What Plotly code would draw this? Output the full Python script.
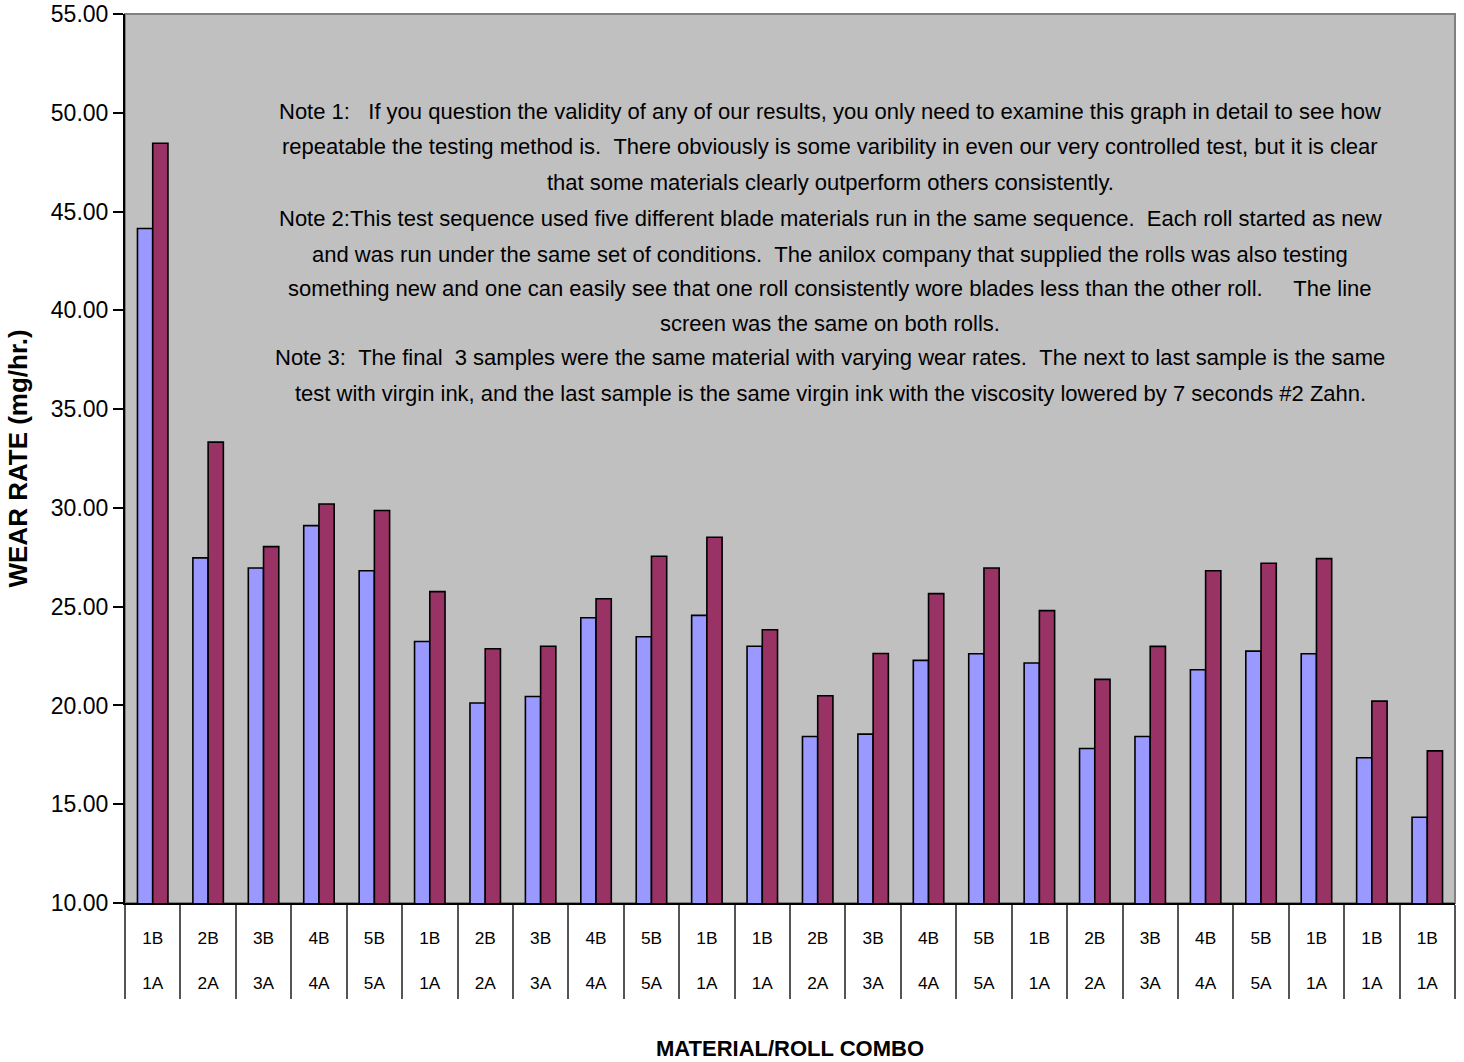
import plotly.graph_objects as go

categories_top = ["1B", "2B", "3B", "4B", "5B", "1B", "2B", "3B", "4B", "5B", "1B", "1B",
                  "2B", "3B", "4B", "5B", "1B", "2B", "3B", "4B", "5B", "1B", "1B", "1B"]
categories_bottom = ["1A", "2A", "3A", "4A", "5A", "1A", "2A", "3A", "4A", "5A", "1A", "1A",
                     "2A", "3A", "4A", "5A", "1A", "2A", "3A", "4A", "5A", "1A", "1A", "1A"]
series_b = [44.14, 27.47, 26.96, 29.10, 26.82, 23.24, 20.12, 20.45, 24.44, 23.48, 24.56, 23.00,
            18.43, 18.55, 22.28, 22.62, 22.15, 17.82, 18.43, 21.81, 22.75, 22.62, 17.35, 14.34]
series_a = [48.46, 33.33, 28.04, 30.20, 29.87, 25.76, 22.87, 23.00, 25.40, 27.55, 28.51, 23.83,
            20.49, 22.63, 25.66, 26.96, 24.80, 21.32, 22.99, 26.82, 27.20, 27.43, 20.22, 17.70]
y_ticks = [10, 15, 20, 25, 30, 35, 40, 45, 50, 55]

note_lines = [
    "Note 1:\u00a0\u00a0\u00a0If you question the validity of any of our results, you only need to examine this graph in detail to see how",
    "repeatable the testing method is.\u00a0\u00a0There obviously is some varibility in even our very controlled test, but it is clear",
    "that some materials clearly outperform others consistently.",
    "Note 2:This test sequence used five different blade materials run in the same sequence.\u00a0\u00a0Each roll started as new",
    "and was run under the same set of conditions.\u00a0\u00a0The anilox company that supplied the rolls was also testing",
    "something new and one can easily see that one roll consistently wore blades less than the other roll.\u00a0\u00a0\u00a0\u00a0\u00a0The line",
    "screen was the same on both rolls.",
    "Note 3:\u00a0\u00a0The final\u00a0\u00a03 samples were the same material with varying wear rates.\u00a0\u00a0The next to last sample is the same",
    "test with virgin ink, and the last sample is the same virgin ink with the viscosity lowered by 7 seconds #2 Zahn.",
]

x_idx = list(range(len(categories_top)))
tick_text = [f"{t}<br><br>{b}" for t, b in zip(categories_top, categories_bottom)]

FONT = "Liberation Sans, Arial, sans-serif"

fig = go.Figure()
fig.add_trace(go.Bar(x=x_idx, y=series_b, name="B",
                     marker=dict(color="#9999FF", line=dict(color="black", width=1.6))))
fig.add_trace(go.Bar(x=x_idx, y=series_a, name="A",
                     marker=dict(color="#993366", line=dict(color="black", width=1.6))))

W, H = 1464, 1062
ml, mr, mt, mb = 125, 9, 14, 159
plot_h = H - mt - mb

# note text lines (pixel y centres converted to paper coords)
line_y = [111, 147, 182, 218, 254, 288, 323, 358, 393]
annotations = []
for txt, yy in zip(note_lines, line_y):
    annotations.append(dict(
        text=txt, xref="paper", yref="paper",
        x=(830 - ml) / (W - ml - mr), y=1 - (yy - mt) / plot_h,
        xanchor="center", yanchor="middle", showarrow=False,
        font=dict(family=FONT, size=22, color="black")))

fig.update_layout(
    width=W, height=H,
    margin=dict(l=ml, r=mr, t=mt, b=mb),
    paper_bgcolor="white", plot_bgcolor="#C0C0C0",
    barmode="group", bargap=0.45, bargroupgap=0,
    showlegend=False,
    font=dict(family=FONT, color="black"),
    annotations=annotations,
    shapes=[dict(type="rect", xref="paper", yref="paper", x0=0, x1=1, y0=0, y1=1,
                 line=dict(color="#808080", width=2), layer="below")],
)
fig.update_xaxes(
    range=[-0.5, len(x_idx) - 0.5], automargin=False,
    tickmode="array", tickvals=x_idx, ticktext=tick_text,
    ticks="", tickfont=dict(family=FONT, size=17.3, color="black"),
    ticklabelstandoff=18,
    showline=True, linecolor="black", linewidth=2,
    showgrid=False, zeroline=False,
    minor=dict(tickmode="array", tickvals=[i - 0.5 for i in range(len(x_idx) + 1)],
               ticks="outside", ticklen=94, tickcolor="#555555", tickwidth=1.5),
    title=dict(text="<b>MATERIAL/ROLL COMBO</b>", standoff=49,
               font=dict(family=FONT, size=22, color="black")),
)
fig.update_yaxes(
    range=[10, 55], tickmode="array", tickvals=y_ticks, tickformat=".2f",
    automargin=False,
    ticks="outside", ticklen=10, tickcolor="black", tickwidth=1.5,
    tickfont=dict(family=FONT, size=23, color="black"),
    showline=True, linecolor="black", linewidth=2,
    showgrid=False, zeroline=False,
    title=dict(text="<b>WEAR RATE (mg/hr.)</b>", standoff=16,
               font=dict(family=FONT, size=26, color="black")),
)

fig.write_html("out.html")
